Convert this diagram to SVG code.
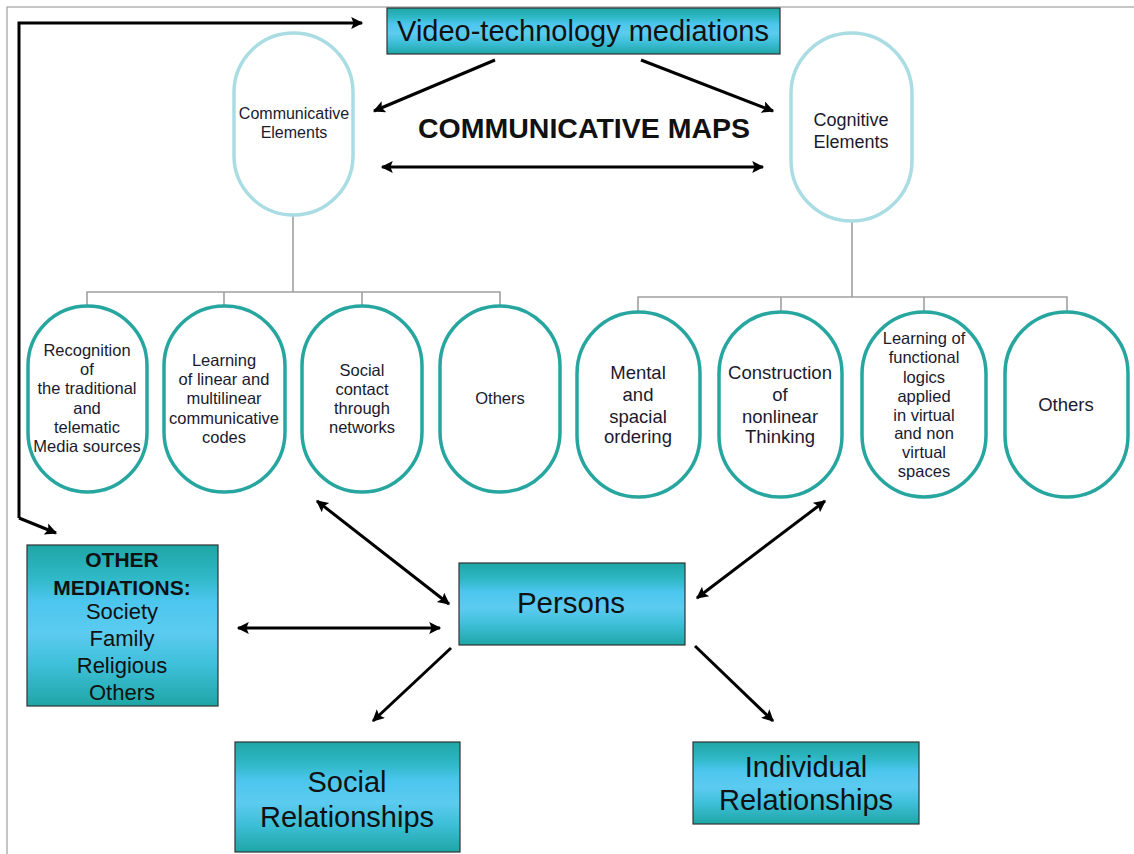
<svg xmlns="http://www.w3.org/2000/svg" width="1134" height="854" viewBox="0 0 1134 854">
<defs>
<linearGradient id="boxg" x1="0" y1="0" x2="0" y2="1">
<stop offset="0" stop-color="#1ea6a6"/>
<stop offset="0.2" stop-color="#2fb8c6"/>
<stop offset="0.35" stop-color="#4cc6ee"/>
<stop offset="0.55" stop-color="#5ccbf0"/>
<stop offset="0.75" stop-color="#3dbfd8"/>
<stop offset="1" stop-color="#1ea6a6"/>
</linearGradient>
<marker id="ah" viewBox="0 0 10 10" refX="9" refY="5" markerWidth="14" markerHeight="12" markerUnits="userSpaceOnUse" orient="auto-start-reverse">
<path d="M0,0 L10,5 L0,10 L2,5 Z" fill="#000"/>
</marker>
</defs>
<style>
.box{fill:url(#boxg);stroke:#333;stroke-width:1.2}
.bt{font-family:"Liberation Sans",Arial,sans-serif;fill:#111;text-anchor:middle}
.pill1{fill:#fff;stroke:#a9dde3;stroke-width:3.5}
.pill2{fill:#fff;stroke:#27a6a0;stroke-width:3.5}
.pt{font-family:"Liberation Sans",Arial,sans-serif;fill:#1a1a2e;text-anchor:middle;font-size:16.5px}
.pr{font-size:18.5px}
.tree{fill:none;stroke:#a0a0a4;stroke-width:1.6}
.arr{fill:none;stroke:#000;stroke-width:3}
</style>
<rect x="7" y="7" width="1140" height="860" fill="none" stroke="#a0a0a0" stroke-width="1.2"/>

<g id="connectors">
<path class="arr" d="M19,518 L19,23 L362,23" marker-end="url(#ah)"/>
<path class="arr" d="M19,518 L56,533" marker-end="url(#ah)"/>
<line class="arr" x1="495" y1="60" x2="374" y2="111" marker-end="url(#ah)"/>
<line class="arr" x1="641" y1="60" x2="773" y2="111" marker-end="url(#ah)"/>
<line class="arr" x1="382" y1="167" x2="763" y2="167" marker-start="url(#ah)" marker-end="url(#ah)"/>
<line class="arr" x1="317" y1="501" x2="449" y2="604" marker-start="url(#ah)" marker-end="url(#ah)"/>
<line class="arr" x1="825" y1="501" x2="697" y2="598" marker-start="url(#ah)" marker-end="url(#ah)"/>
<line class="arr" x1="238" y1="628" x2="440" y2="628" marker-start="url(#ah)" marker-end="url(#ah)"/>
<line class="arr" x1="451" y1="648" x2="373" y2="721" marker-end="url(#ah)"/>
<line class="arr" x1="695" y1="646" x2="773" y2="721" marker-end="url(#ah)"/>
<path class="tree" d="M293,216 L293,292 M87,305 L87,292 L500,292 L500,305 M224,292 L224,305 M362,292 L362,305"/>
<path class="tree" d="M852,222 L852,297" stroke-width="2.4"/>
<path class="tree" d="M638,311 L638,297 L1067,297 L1067,311 M781,297 L781,311 M924,297 L924,311"/>
</g>

<g id="video">
<rect class="box" x="387" y="8" width="393" height="46"/>
<text class="bt" x="583" y="41" font-size="29">Video-technology mediations</text>
</g>

<text id="title" x="584" y="138" font-family="Liberation Sans,Arial,sans-serif" font-weight="bold" font-size="28.5" text-anchor="middle" fill="#111">COMMUNICATIVE MAPS</text>

<g id="communicative">
<rect class="pill1" x="234" y="33" width="119" height="182" rx="59.5"/>
<text class="pt" x="294" y="119" style="font-size:16px">Communicative</text>
<text class="pt" x="294" y="138" style="font-size:16px">Elements</text>
</g>

<g id="cognitive">
<rect class="pill1" x="791" y="33" width="121" height="188" rx="60.5"/>
<text class="pt" x="851" y="126" style="font-size:18px">Cognitive</text>
<text class="pt" x="851" y="148" style="font-size:18px">Elements</text>
</g>

<g id="c1">
<rect class="pill2" x="28" y="306" width="119" height="186" rx="59.5"/>
<text class="pt" x="87" y="356">Recognition</text>
<text class="pt" x="87" y="375">of</text>
<text class="pt" x="87" y="394">the traditional</text>
<text class="pt" x="87" y="414">and</text>
<text class="pt" x="87" y="433">telematic</text>
<text class="pt" x="87" y="452">Media sources</text>
</g>
<g id="c2">
<rect class="pill2" x="164" y="306" width="121" height="186" rx="60"/>
<text class="pt" x="224" y="366">Learning</text>
<text class="pt" x="224" y="385">of linear and</text>
<text class="pt" x="224" y="404">multilinear</text>
<text class="pt" x="224" y="424">communicative</text>
<text class="pt" x="224" y="443">codes</text>
</g>
<g id="c3">
<rect class="pill2" x="302" y="306" width="120" height="186" rx="60"/>
<text class="pt" x="362" y="376">Social</text>
<text class="pt" x="362" y="395">contact</text>
<text class="pt" x="362" y="414">through</text>
<text class="pt" x="362" y="433">networks</text>
</g>
<g id="c4">
<rect class="pill2" x="440" y="306" width="120" height="186" rx="60"/>
<text class="pt" x="500" y="404">Others</text>
</g>

<g id="g1">
<rect class="pill2" x="577" y="312" width="123" height="185" rx="61.5"/>
<text class="pt pr" x="638" y="379">Mental</text>
<text class="pt pr" x="638" y="401">and</text>
<text class="pt pr" x="638" y="423">spacial</text>
<text class="pt pr" x="638" y="443">ordering</text>
</g>
<g id="g2">
<rect class="pill2" x="719" y="312" width="123" height="185" rx="61.5"/>
<text class="pt pr" x="780" y="379">Construction</text>
<text class="pt pr" x="780" y="401">of</text>
<text class="pt pr" x="780" y="423">nonlinear</text>
<text class="pt pr" x="780" y="443">Thinking</text>
</g>
<g id="g3">
<rect class="pill2" x="862" y="312" width="124" height="185" rx="62"/>
<text class="pt" x="924" y="344">Learning of</text>
<text class="pt" x="924" y="363">functional</text>
<text class="pt" x="924" y="383">logics</text>
<text class="pt" x="924" y="402">applied</text>
<text class="pt" x="924" y="421">in virtual</text>
<text class="pt" x="924" y="439">and non</text>
<text class="pt" x="924" y="458">virtual</text>
<text class="pt" x="924" y="477">spaces</text>
</g>
<g id="g4">
<rect class="pill2" x="1005" y="312" width="123" height="185" rx="61.5"/>
<text class="pt pr" x="1066" y="411">Others</text>
</g>

<g id="other">
<rect class="box" x="27" y="545" width="191" height="161"/>
<text class="bt" x="122" y="567" font-size="21" font-weight="bold">OTHER</text>
<text class="bt" x="122" y="595" font-size="21" font-weight="bold">MEDIATIONS:</text>
<text class="bt" x="122" y="619" font-size="22">Society</text>
<text class="bt" x="122" y="646" font-size="22">Family</text>
<text class="bt" x="122" y="673" font-size="22">Religious</text>
<text class="bt" x="122" y="700" font-size="22">Others</text>
</g>

<g id="persons">
<rect class="box" x="459" y="563" width="226" height="82"/>
<text class="bt" x="571" y="613" font-size="29.5">Persons</text>
</g>

<g id="social">
<rect class="box" x="235" y="742" width="225" height="110"/>
<text class="bt" x="347" y="792" font-size="29">Social</text>
<text class="bt" x="347" y="827" font-size="29">Relationships</text>
</g>

<g id="individual">
<rect class="box" x="693" y="742" width="226" height="82"/>
<text class="bt" x="806" y="777" font-size="29">Individual</text>
<text class="bt" x="806" y="810" font-size="29">Relationships</text>
</g>
</svg>
